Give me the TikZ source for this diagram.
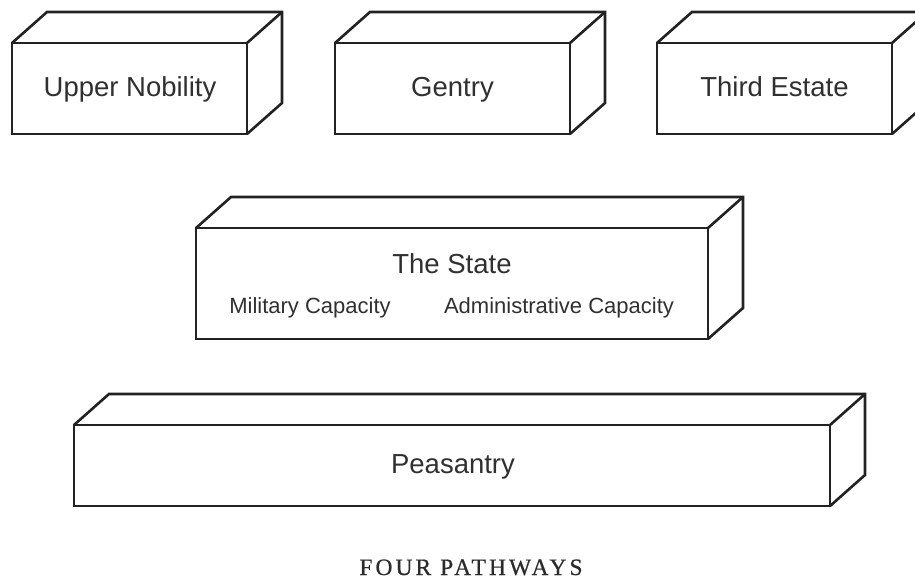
\documentclass[tikz,border=0pt]{standalone}
\usepackage{fontspec}
\setmainfont{Liberation Sans}
\newfontfamily\capfont{Liberation Serif}[LetterSpace=13,FakeBold=0.6]
\usetikzlibrary{calc}
\definecolor{linecol}{HTML}{222222}
\definecolor{textcol}{HTML}{303030}
\tikzset{
  cubefront/.style={draw=linecol, line width=2.6pt, fill=white, inner sep=0pt, outer sep=0pt},
  cubeface/.style={draw=linecol, line width=2.6pt, line join=miter},
  biglabel/.style={text=textcol, font=\fontsize{27.5}{30}\selectfont, inner sep=0pt, anchor=base},
  sublabel/.style={text=textcol, font=\fontsize{22}{24}\selectfont, inner sep=0pt, anchor=base},
  caption/.style={text=textcol!90!black, font=\capfont\fontsize{23.5}{26}\selectfont, inner sep=0pt, anchor=base}
}
\newcommand\cubesides[1]{%
  \draw[cubeface] (#1.north west) -- ++(35,-31) -- ($(#1.north east)+(35,-31)$)
     -- ($(#1.south east)+(35,-31)$) -- (#1.south east);
  \draw[cubeface] (#1.north east) -- ++(35,-31);
}
\begin{document}
\begin{tikzpicture}[x=1pt,y=-1pt]
\useasboundingbox[fill=white] (0,0) rectangle (915,582);
\node[cubefront, minimum width=235pt, minimum height=91pt] (upper) at (129.5,88.5) {};
\node[cubefront, minimum width=235pt, minimum height=91pt] (gentry) at (452.5,88.5) {};
\node[cubefront, minimum width=235pt, minimum height=91pt] (third) at (774.5,88.5) {};
\node[cubefront, minimum width=512pt, minimum height=111pt] (state) at (452,283.5) {};
\node[cubefront, minimum width=756pt, minimum height=81pt] (peasant) at (452,465.5) {};
\cubesides{upper}
\cubesides{gentry}
\cubesides{third}
\cubesides{state}
\cubesides{peasant}
\node[biglabel] (uppertext) at (130,96) {Upper Nobility};
\node[biglabel] (gentrytext) at (452.5,96) {Gentry};
\node[biglabel] (thirdtext) at (774.5,96) {Third Estate};
\node[biglabel] (statetitle) at (452,273) {The State};
\node[sublabel] (military) at (310,313) {Military Capacity};
\node[sublabel] (admin) at (559,313) {Administrative Capacity};
\node[biglabel] (peasanttext) at (453,473.5) {Peasantry};
\node[caption] (cap) at (471,575) {FOUR PATHWAYS};
\end{tikzpicture}
\end{document}
